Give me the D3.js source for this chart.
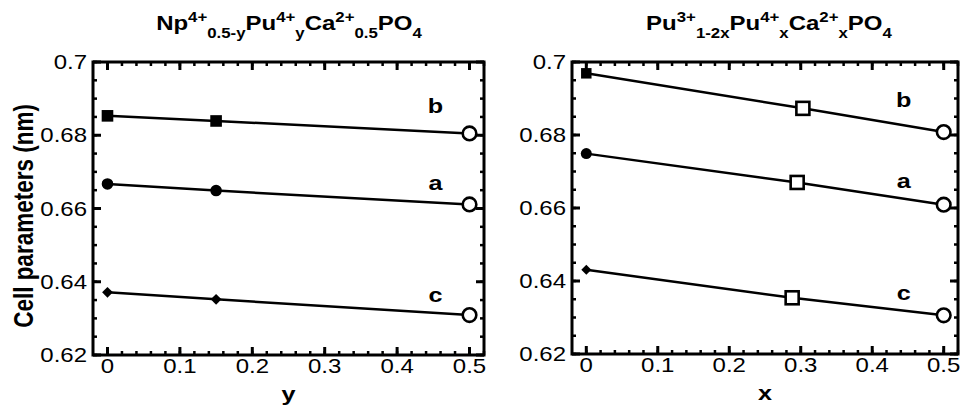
<!DOCTYPE html>
<html>
<head>
<meta charset="utf-8">
<script src="https://cdn.jsdelivr.net/npm/d3@7"></script>
<style>
	body { margin: 0; background: #fff; }
	text { font-family: "Liberation Sans", Arial, Helvetica, sans-serif; }
</style>
</head>
<body>
<svg id="chart" width="968" height="409"></svg>
<script>
// left panel: Np(4+)0.5-y Pu(4+)y Ca(2+)0.5 PO4
var leftX = [0, 0.15, 0.5];
var leftB = [0.6853, 0.6839, 0.6805];
var leftA = [0.6667, 0.6649, 0.6611];
var leftC = [0.6371, 0.6352, 0.6309];

// right panel: Pu(3+)1-2x Pu(4+)x Ca(2+)x PO4
var rightBx = [0, 0.303, 0.5];
var rightAx = [0, 0.295, 0.5];
var rightCx = [0, 0.288, 0.5];
var rightB = [0.6969, 0.6873, 0.6808];
var rightA = [0.6749, 0.6670, 0.6609];
var rightC = [0.6431, 0.6354, 0.6306];

var xTicks = [0, 0.1, 0.2, 0.3, 0.4, 0.5];
var yTicks = [0.62, 0.64, 0.66, 0.68, 0.7];
var seriesNames = ['b', 'a', 'c'];

var svg = d3.select('#chart');
var SX = 1.2; // the original lettering is wider than Arial

// text placed at (x,y), stretched sideways
function wideText(parent, x, y, size, anchor) {
	return parent.append('text')
		.attr('transform', 'translate(' + x + ',' + y + ') scale(' + SX + ',1)')
		.attr('text-anchor', anchor)
		.attr('font-size', size);
}

function drawPanel(opt) {
	'use strict';
	var x = d3.scaleLinear().domain([-0.02, 0.52]).range([opt.left, opt.right]);
	var y = d3.scaleLinear().domain([0.62, 0.70]).range([opt.bottom, opt.top]);
	var g = svg.append('g');

	var xMinor = d3.range(0, 0.521, 0.02);
	var yMinor = d3.range(0.62, 0.7001, 0.005);

	// ticks inward on all four sides
	function xticks(vals, len, w) {
		vals.forEach(function(v) {
			var px = x(v);
			g.append('line').attr('x1', px).attr('x2', px)
				.attr('y1', opt.bottom).attr('y2', opt.bottom - len)
				.attr('stroke', '#000').attr('stroke-width', w);
			g.append('line').attr('x1', px).attr('x2', px)
				.attr('y1', opt.top).attr('y2', opt.top + len)
				.attr('stroke', '#000').attr('stroke-width', w);
		});
	}
	xticks(xMinor, 4, 2.5);
	xticks(xTicks, 8, 3);

	function yticks(vals, len, w) {
		vals.forEach(function(v) {
			var py = y(v);
			g.append('line').attr('x1', opt.left).attr('x2', opt.left + len)
				.attr('y1', py).attr('y2', py)
				.attr('stroke', '#000').attr('stroke-width', w);
			g.append('line').attr('x1', opt.right).attr('x2', opt.right - len)
				.attr('y1', py).attr('y2', py)
				.attr('stroke', '#000').attr('stroke-width', w);
		});
	}
	yticks(yMinor, 4, 2.5);
	yticks(yTicks, 8, 3);

	g.append('rect')
		.attr('x', opt.left).attr('y', opt.top)
		.attr('width', opt.right - opt.left).attr('height', opt.bottom - opt.top)
		.attr('fill', 'none').attr('stroke', '#000').attr('stroke-width', 3);

	// tick labels
	xTicks.forEach(function(d) {
		wideText(g, x(d), opt.bottom + 18, 20, 'middle').text(d);
	});
	yTicks.forEach(function(d) {
		wideText(g, opt.left - 6, y(d) + 7, 20, 'end').text(d);
	});

	// series
	var line = d3.line()
		.x(function(d) { return x(d[0]); })
		.y(function(d) { return y(d[1]); });

	opt.series.forEach(function(s, i) {
		var pts = s.xs.map(function(v, j) { return [v, s.ys[j]]; });
		g.append('path').datum(pts)
			.attr('d', line)
			.attr('fill', 'none').attr('stroke', '#000').attr('stroke-width', 2.5);

		pts.forEach(function(p, j) {
			var px = x(p[0]), py = y(p[1]);
			var kind = s.kinds[j];
			if (kind === 'open-circle') {
				g.append('circle').attr('cx', px).attr('cy', py).attr('r', 6.8)
					.attr('fill', '#fff').attr('stroke', '#000').attr('stroke-width', 2.6);
			} else if (kind === 'open-square') {
				g.append('rect').attr('x', px - 6.5).attr('y', py - 6.5)
					.attr('width', 13).attr('height', 13)
					.attr('fill', '#fff').attr('stroke', '#000').attr('stroke-width', 2.6);
			} else if (s.shape === 'diamond') {
				g.append('path')
					.attr('d', d3.symbol().type(d3.symbolSquare).size(s.fillSize)())
					.attr('transform', 'translate(' + px + ',' + py + ') rotate(45)')
					.attr('fill', '#000');
			} else {
				var sym = s.shape === 'square' ? d3.symbolSquare : d3.symbolCircle;
				g.append('path')
					.attr('d', d3.symbol().type(sym).size(s.fillSize)())
					.attr('transform', 'translate(' + px + ',' + py + ')')
					.attr('fill', '#000');
			}
		});

		wideText(g, x(opt.labelX), y(s.labelY), 21, 'middle')
			.attr('font-weight', 'bold')
			.text(seriesNames[i]);
	});

	// x axis name
	wideText(g, (opt.left + opt.right) / 2, opt.bottom + 46, 21, 'middle')
		.attr('font-weight', 'bold')
		.text(opt.xName);

	// panel title with super/subscripts
	var t = wideText(g, opt.titleX, 30, 20, 'middle').attr('font-weight', 'bold');
	opt.title.forEach(function(part) {
		var ts = t.append('tspan').text(part[0]).attr('dy', part[2]);
		if (part[1] !== 'base') ts.attr('font-size', 14);
	});
}

drawPanel({
	left: 93, right: 484, top: 62, bottom: 355,
	labelX: 0.453, xName: 'y', titleX: 289,
	title: [['Np', 'base', 0], ['4+', 'sup', -8], ['0.5-y', 'sub', 16], ['Pu', 'base', -8],
		['4+', 'sup', -8], ['y', 'sub', 16], ['Ca', 'base', -8], ['2+', 'sup', -8],
		['0.5', 'sub', 16], ['PO', 'base', -8], ['4', 'sub', 8]],
	series: [
		{ xs: leftX, ys: leftB, shape: 'square', fillSize: 135, kinds: ['f', 'f', 'open-circle'], labelY: 0.6861 },
		{ xs: leftX, ys: leftA, shape: 'circle', fillSize: 105, kinds: ['f', 'f', 'open-circle'], labelY: 0.6650 },
		{ xs: leftX, ys: leftC, shape: 'diamond', fillSize: 58, kinds: ['f', 'f', 'open-circle'], labelY: 0.6345 }
	]
});

drawPanel({
	left: 572, right: 958, top: 62, bottom: 354,
	labelX: 0.444, xName: 'x', titleX: 769,
	title: [['Pu', 'base', 0], ['3+', 'sup', -8], ['1-2x', 'sub', 16], ['Pu', 'base', -8],
		['4+', 'sup', -8], ['x', 'sub', 16], ['Ca', 'base', -8], ['2+', 'sup', -8],
		['x', 'sub', 16], ['PO', 'base', -8], ['4', 'sub', 8]],
	series: [
		{ xs: rightBx, ys: rightB, shape: 'square', fillSize: 110, kinds: ['f', 'open-square', 'open-circle'], labelY: 0.6877 },
		{ xs: rightAx, ys: rightA, shape: 'circle', fillSize: 95, kinds: ['f', 'open-square', 'open-circle'], labelY: 0.6654 },
		{ xs: rightCx, ys: rightC, shape: 'diamond', fillSize: 50, kinds: ['f', 'open-square', 'open-circle'], labelY: 0.6347 }
	]
});

// shared y axis title, thickened sideways like the rest of the lettering
svg.append('text')
	.attr('transform', 'translate(33,216) rotate(-90) scale(1,' + SX + ')')
	.attr('text-anchor', 'middle')
	.attr('font-size', 22.5).attr('font-weight', 'bold')
	.text('Cell parameters (nm)');
</script>
</body>
</html>
